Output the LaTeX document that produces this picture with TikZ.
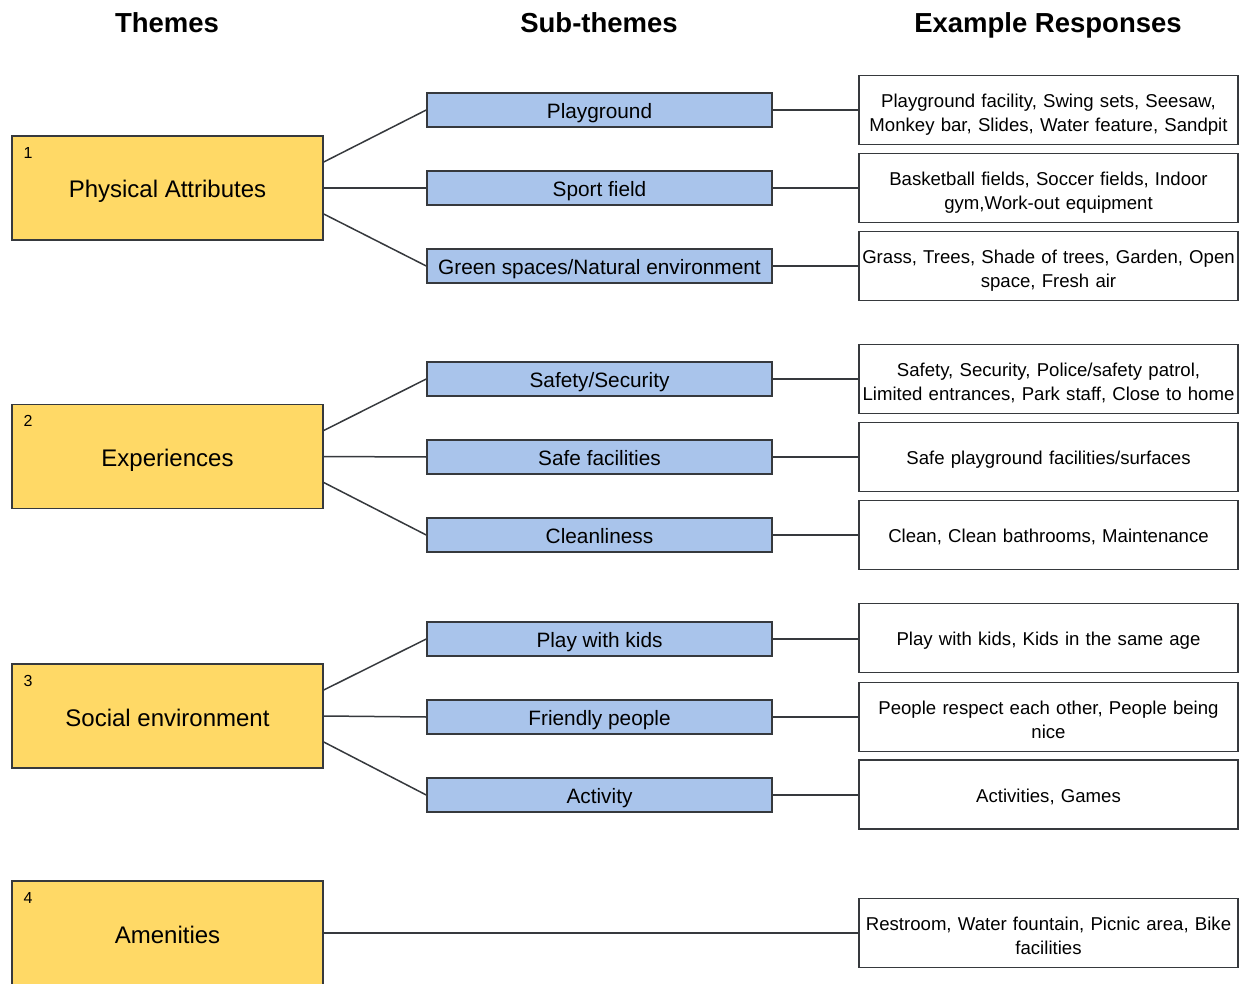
\documentclass[tikz,border=0pt]{standalone}
\usepackage{fontspec}
\setmainfont{Liberation Sans}
\definecolor{themefill}{HTML}{FFD966}
\definecolor{subfill}{HTML}{A9C4EB}
\definecolor{edge}{HTML}{36393D}
\begin{document}
\begin{tikzpicture}[x=1pt,y=-1pt,
  theme/.style={draw=edge,line width=1.5pt,fill=themefill,minimum width=311pt,minimum height=104pt,font=\fontsize{24}{28}\selectfont,inner sep=0pt,text height=20pt,text depth=0pt},
  sub/.style={draw=edge,line width=1.5pt,fill=subfill,minimum width=345pt,minimum height=34pt,font=\fontsize{20.8}{24}\selectfont,inner sep=0pt,text height=16.6pt,text depth=0pt},
  ex/.style={draw=edge,line width=1.5pt,fill=white,minimum width=379pt,minimum height=69pt,text width=377pt,align=center,font=\fontsize{18.6}{23.4}\selectfont,inner sep=0pt,text height=15pt,text depth=0pt},
  extwo/.style={ex,text height=13.3pt,text depth=18pt},
  num/.style={font=\fontsize{16}{18}\selectfont,inner sep=0pt},
  head/.style={font=\bfseries\fontsize{27.5}{30}\selectfont,inner sep=0pt,anchor=base},
  link/.style={draw=edge,line width=1.5pt}]
\useasboundingbox (0,0) rectangle (1239,984);
% headers
\node[head] (h1) at (167,32.3) {Themes};
\node[head] (h2) at (599,32.3) {Sub-themes};
\node[head] (h3) at (1048,32.3) {Example Responses};
% themes
\node[theme] (t1) at (167.5,188) {Physical Attributes};
\node[theme] (t2) at (167.5,456.5) {Experiences};
\node[theme] (t3) at (167.5,716) {Social environment};
\node[theme] (t4) at (167.5,933) {Amenities};
\node[num] (n1) at (28,153) {1};
\node[num] (n2) at (28,421) {2};
\node[num] (n3) at (28,681) {3};
\node[num] (n4) at (28,898) {4};
% sub-themes
\node[sub] (s1) at (599.5,110) {Playground};
\node[sub] (s2) at (599.5,188) {Sport field};
\node[sub] (s3) at (599.5,266) {Green spaces/Natural environment};
\node[sub] (s4) at (599.5,379) {Safety/Security};
\node[sub] (s5) at (599.5,457) {Safe facilities};
\node[sub] (s6) at (599.5,535) {Cleanliness};
\node[sub] (s7) at (599.5,639) {Play with kids};
\node[sub] (s8) at (599.5,717) {Friendly people};
\node[sub] (s9) at (599.5,795) {Activity};
% examples
\node[extwo] (e1) at (1048.5,110) {Playground facility, Swing sets, Seesaw,\\Monkey bar, Slides, Water feature, Sandpit};
\node[extwo] (e2) at (1048.5,188) {Basketball fields, Soccer fields, Indoor\\gym,Work-out equipment};
\node[extwo] (e3) at (1048.5,266) {Grass, Trees, Shade of trees, Garden, Open\\space, Fresh air};
\node[extwo] (e4) at (1048.5,379) {Safety, Security, Police/safety patrol,\\Limited entrances, Park staff, Close to home};
\node[ex] (e5) at (1048.5,457) {Safe playground facilities/surfaces};
\node[ex] (e6) at (1048.5,535) {Clean, Clean bathrooms, Maintenance};
\node[ex] (e7) at (1048.5,638) {Play with kids, Kids in the same age};
\node[extwo] (e8) at (1048.5,717) {People respect each other, People being\\nice};
\node[ex] (e9) at (1048.5,794.5) {Activities, Games};
\node[extwo] (e10) at (1048.5,933) {Restroom, Water fountain, Picnic area, Bike\\facilities};
% connectors
\foreach \t/\a/\b/\c in {t1/s1/s2/s3, t2/s4/s5/s6, t3/s7/s8/s9}{
  \draw[link] ([yshift=26pt]\t.east) -- (\a.west);
  \draw[link] (\t.east) -- (\b.west);
  \draw[link] ([yshift=-26pt]\t.east) -- (\c.west);
}
\foreach \s/\e in {s1/e1,s2/e2,s3/e3,s4/e4,s5/e5,s6/e6,s7/e7,s8/e8,s9/e9}{
  \draw[link] (\s.east) -- (\e.west |- \s.east);
}
\draw[link] (t4.east) -- (e10.west);
\end{tikzpicture}
\end{document}
